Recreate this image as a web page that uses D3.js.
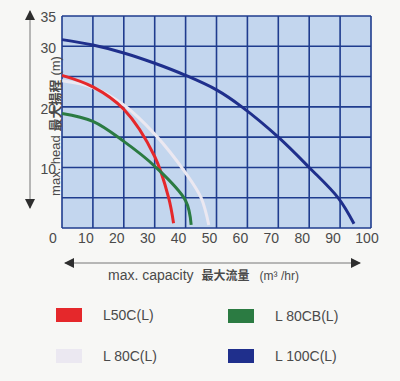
<!DOCTYPE html>
<html><head><meta charset="utf-8">
<script src="https://cdn.jsdelivr.net/npm/d3@7"></script>
<style>
html,body{margin:0;padding:0;background:#f7f7f5;}
svg{display:block;}
text{font-family:"Liberation Sans",Arial,sans-serif;fill:#4a4a4a;}
</style></head>
<body>
<script>
// ---- data ----
const xTicks = [0,10,20,30,40,50,60,70,80,90,100];
const yTicks = [10,20,30,35];
const gridX = [0,10,20,30,40,50,60,70,80,90,100];
const gridY = [0,5,10,15,20,25,30,35];

const seriesNames = ["L80C(L)","L50C(L)","L80CB(L)","L100C(L)"];
const l80cQ = [0,10,20,30,40,45,47.5];
const l80cH = [24.3,23.2,20.3,15.5,9.1,5.0,0.5];
const l50cQ = [0,10,20,30,34.5,36.1];
const l50cH = [25.2,23.3,19.6,11.8,5,0.8];
const l80cbQ = [0,10,20,30,40,41.8];
const l80cbH = [18.9,17.6,14.3,10.2,4.5,0.5];
const l100cQ = [0,10,20,30,40,50,58.2,70,80,89.5,94.5];
const l100cH = [31.1,30.2,28.9,27.2,25.2,22.8,20,15,10,4.9,0.7];

const legendLabels = ["L50C(L)","L 80CB(L)","L 80C(L)","L 100C(L)"];
const legendColors = ["#e5282b","#2b7b42","#ebe8f1","#1f2f8c"];

// ---- drawing ----
const W=400,H=381;
const svg=d3.select("body").append("svg").attr("width",W).attr("height",H);
const x=d3.scaleLinear().domain([0,100]).range([62,371]);
const y=d3.scaleLinear().domain([0,35]).range([228,16]);

svg.append("rect").attr("x",x(0)).attr("y",y(35))
  .attr("width",x(100)-x(0)).attr("height",y(0)-y(35))
  .attr("fill","#c3d6ee");

const gridColor="#1f3c8e";
svg.append("g").selectAll("line").data(gridX).join("line")
  .attr("x1",d=>x(d)).attr("x2",d=>x(d)).attr("y1",y(0)).attr("y2",y(35))
  .attr("stroke",gridColor).attr("stroke-width",1.6);
svg.append("g").selectAll("line").data(gridY).join("line")
  .attr("y1",d=>y(d)).attr("y2",d=>y(d)).attr("x1",x(0)).attr("x2",x(100))
  .attr("stroke",gridColor).attr("stroke-width",1.6);

// curves
const line=d3.line().x(d=>x(d[0])).y(d=>y(d[1])).curve(d3.curveCatmullRom.alpha(0.5));
const zip=(a,b)=>a.map((v,i)=>[v,b[i]]);
const curves=[
  {pts:zip(l80cQ,l80cH),c:legendColors[2]},
  {pts:zip(l50cQ,l50cH),c:legendColors[0]},
  {pts:zip(l80cbQ,l80cbH),c:legendColors[1]},
  {pts:zip(l100cQ,l100cH),c:legendColors[3]}
];
svg.append("g").selectAll("path").data(curves).join("path")
  .attr("d",d=>line(d.pts)).attr("fill","none")
  .attr("stroke",d=>d.c).attr("stroke-width",3).attr("stroke-linecap","butt");

// x tick labels
svg.append("g").selectAll("text").data(xTicks).join("text")
  .attr("x",d=>x(d)-(d===0?9:(d===100?4:7))).attr("y",243)
  .attr("text-anchor","middle").attr("font-size",14).text(d=>d);
// y tick labels
svg.append("g").selectAll("text").data(yTicks).join("text")
  .attr("x",56).attr("y",d=>y(d)+(d===35?6:7))
  .attr("text-anchor","end").attr("font-size",14).text(d=>d);

// arrows
const defs=svg.append("defs");
defs.append("marker").attr("id","ah").attr("viewBox","0 0 10 10")
  .attr("refX",9).attr("refY",5).attr("markerWidth",14).attr("markerHeight",10)
  .attr("markerUnits","userSpaceOnUse").attr("orient","auto-start-reverse")
  .append("path").attr("d","M0,0L10,5L0,10Z").attr("fill","#2e2e2e");
svg.append("line").attr("x1",30).attr("x2",30).attr("y1",11).attr("y2",208)
  .attr("stroke","#777").attr("stroke-width",1)
  .attr("marker-start","url(#ah)").attr("marker-end","url(#ah)");
svg.append("line").attr("x1",65).attr("x2",360).attr("y1",263).attr("y2",263)
  .attr("stroke","#777").attr("stroke-width",1)
  .attr("marker-start","url(#ah)").attr("marker-end","url(#ah)");

// axis titles
const yt=svg.append("text").attr("transform","translate(60,126) rotate(-90)")
  .attr("text-anchor","middle").attr("font-size",13);
yt.append("tspan").text("max. head ");
yt.append("tspan").attr("font-family","'Noto Sans CJK TC',sans-serif").attr("font-weight","bold").text("最大揚程");
yt.append("tspan").attr("dx",4).text("(m)");

const xt=svg.append("text").attr("x",108).attr("y",280).attr("font-size",14);
xt.append("tspan").text("max. capacity");
xt.append("tspan").attr("dx",8).attr("font-size",12).attr("font-weight","bold")
  .attr("font-family","'Noto Sans CJK SC',sans-serif").text("最大流量");
xt.append("tspan").attr("dx",10).attr("font-size",12).text("(m³ /hr)");

// legend
const lg=[{x:56,y:308},{x:228,y:309},{x:56,y:349},{x:228,y:349}];
const leg=svg.append("g").selectAll("g").data(legendLabels).join("g")
  .attr("transform",(d,i)=>`translate(${lg[i].x},${lg[i].y})`);
leg.append("rect").attr("width",26).attr("height",14).attr("fill",(d,i)=>legendColors[i]);
leg.append("text").attr("x",47).attr("y",12).attr("font-size",14).text(d=>d);
</script>
</body></html>
